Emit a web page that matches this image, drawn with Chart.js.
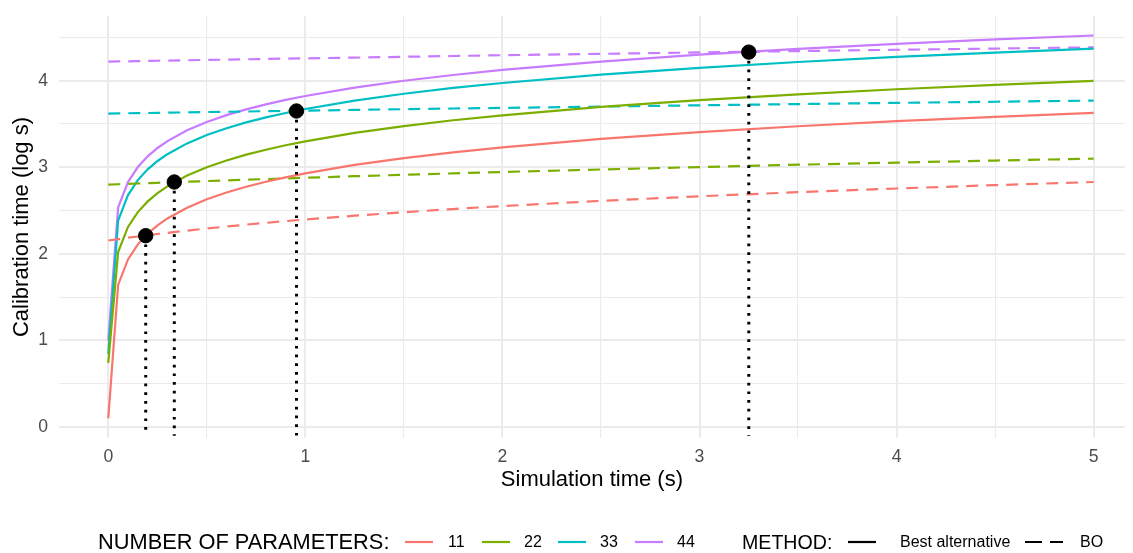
<!DOCTYPE html>
<html>
<head>
<meta charset="utf-8">
<script src="https://cdn.jsdelivr.net/npm/chart.js@4.4.1/dist/chart.umd.min.js"></script>
<style>
  html, body { margin: 0; padding: 0; background: #fff; }
  #wrap { position: relative; width: 1133px; height: 553px; font-family: "Liberation Sans", Arial, sans-serif; }
  #plot { position: absolute; left: 0; top: 0; }
  .lg { position: absolute; top: 530px; height: 24px; line-height: 24px; white-space: nowrap; color: #000; }
  .lg svg { display: block; }
</style>
</head>
<body>
<div id="wrap">
  <canvas id="plot" width="1133" height="553"></canvas>
  <div id="legend"></div>
</div>
<script>
// simulation time (s)
const simTime = [0, 0.05, 0.1, 0.15, 0.2, 0.25, 0.3, 0.4, 0.5, 0.6, 0.7, 0.8, 0.9, 1, 1.25, 1.5, 1.75, 2, 2.5, 3, 3.5, 4, 4.5, 5];

// calibration time (log s), best alternative method
const best11 = [0.10, 1.641, 1.936, 2.110, 2.234, 2.330, 2.409, 2.533, 2.630, 2.709, 2.775, 2.833, 2.884, 2.930, 3.027, 3.106, 3.173, 3.231, 3.328, 3.407, 3.474, 3.532, 3.583, 3.628];
const best22 = [0.740, 2.021, 2.311, 2.483, 2.606, 2.702, 2.780, 2.904, 3.000, 3.079, 3.146, 3.203, 3.254, 3.300, 3.397, 3.476, 3.543, 3.600, 3.697, 3.776, 3.843, 3.901, 3.952, 3.998];
const best33 = [0.845, 2.384, 2.679, 2.852, 2.976, 3.073, 3.151, 3.276, 3.372, 3.451, 3.518, 3.576, 3.627, 3.673, 3.770, 3.849, 3.916, 3.973, 4.070, 4.149, 4.216, 4.274, 4.325, 4.371];
const best44 = [1.000, 2.535, 2.829, 3.003, 3.127, 3.223, 3.302, 3.427, 3.523, 3.602, 3.669, 3.727, 3.778, 3.823, 3.920, 3.999, 4.066, 4.124, 4.221, 4.300, 4.367, 4.425, 4.476, 4.522];

// calibration time (log s), BO
const bo11 = [2.155, 2.171, 2.187, 2.201, 2.216, 2.230, 2.243, 2.269, 2.293, 2.316, 2.338, 2.358, 2.378, 2.397, 2.441, 2.481, 2.518, 2.552, 2.612, 2.665, 2.713, 2.755, 2.794, 2.830];
const bo22 = [2.800, 2.804, 2.809, 2.813, 2.817, 2.821, 2.825, 2.833, 2.841, 2.849, 2.857, 2.864, 2.872, 2.879, 2.897, 2.913, 2.930, 2.946, 2.975, 3.003, 3.030, 3.054, 3.078, 3.100];
const bo33 = [3.620, 3.622, 3.624, 3.625, 3.627, 3.629, 3.631, 3.634, 3.638, 3.641, 3.644, 3.648, 3.651, 3.654, 3.663, 3.671, 3.679, 3.686, 3.701, 3.716, 3.730, 3.744, 3.757, 3.770];
const bo44 = [4.220, 4.222, 4.224, 4.226, 4.228, 4.230, 4.232, 4.236, 4.240, 4.243, 4.247, 4.251, 4.255, 4.258, 4.267, 4.276, 4.285, 4.294, 4.310, 4.326, 4.342, 4.357, 4.371, 4.385];

// break-even points where BO gets faster
const crossX = [0.19, 0.335, 0.955, 3.25];
const crossY = [2.21, 2.83, 3.65, 4.33];

const paramCounts = ['11', '22', '33', '44'];
const methods = ['Best alternative', 'BO'];
const xTicks = [0, 0.5, 1, 1.5, 2, 2.5, 3, 3.5, 4, 4.5, 5];
const yTicks = [0, 0.5, 1, 1.5, 2, 2.5, 3, 3.5, 4, 4.5];

const colors = ['#F8766D', '#7CAE00', '#00BFC4', '#C77CFF'];
const bestSeries = [best11, best22, best33, best44];
const boSeries = [bo11, bo22, bo33, bo44];
const X_MIN = -0.25, X_MAX = 5.158;
const Y_MIN = -0.126, Y_MAX = 4.747;

const toXY = ys => simTime.map((t, i) => ({ x: t, y: ys[i] }));

const datasets = [];
paramCounts.forEach((p, i) => {
    datasets.push({
        label: p + ' ' + methods[0],
        data: toXY(bestSeries[i]),
        showLine: true, borderColor: colors[i], borderWidth: 2.2,
        pointRadius: 0, order: 3
    });
    datasets.push({
        label: p + ' ' + methods[1],
        data: toXY(boSeries[i]),
        showLine: true, borderColor: colors[i], borderWidth: 2.2,
        borderDash: [12, 8], pointRadius: 0, order: 3
    });
});

// dotted drop lines from each crossing to the bottom of the panel
crossX.forEach((cx, i) => {
    datasets.push({
        data: [{ x: cx, y: crossY[i] }, { x: cx, y: -0.1 }],
        showLine: true, borderColor: '#000', borderWidth: 3,
        borderDash: [2.7, 6], borderCapStyle: 'butt', pointRadius: 0, order: 2
    });
});

datasets.push({
    data: crossX.map((cx, i) => ({ x: cx, y: crossY[i] })),
    showLine: false, pointRadius: 7.2, pointBackgroundColor: '#000',
    pointBorderColor: '#000', pointBorderWidth: 1, order: 1
});

const isMajor = v => Number.isInteger(v);
const gridWidth = ctx => (ctx.tick && isMajor(ctx.tick.value)) ? 2 : 1.1;

new Chart(document.getElementById('plot'), {
    type: 'scatter',
    data: { datasets },
    options: {
        responsive: false,
        animation: false,
        events: [],
        layout: { padding: { top: 16, right: 0, left: 0, bottom: 0 } },
        plugins: { legend: { display: false }, tooltip: { enabled: false } },
        scales: {
            x: {
                type: 'linear', min: X_MIN, max: X_MAX,
                afterBuildTicks: s => { s.ticks = xTicks.map(v => ({ value: v })); },
                afterFit: s => { s.height = 115; s.paddingLeft = 0; s.paddingRight = 0; },
                grid: { drawTicks: false, color: '#EBEBEB', lineWidth: gridWidth },
                border: { display: false },
                ticks: {
                    padding: 9, color: '#4D4D4D', maxRotation: 0, autoSkip: false,
                    font: { family: 'Liberation Sans', size: 17.6 },
                    callback: v => isMajor(v) ? String(v) : ''
                },
                title: {
                    display: true, text: 'Simulation time (s)', color: '#000',
                    font: { family: 'Liberation Sans', size: 22 },
                    padding: { top: 0, bottom: 60 }
                }
            },
            y: {
                type: 'linear', min: Y_MIN, max: Y_MAX,
                afterBuildTicks: s => { s.ticks = yTicks.map(v => ({ value: v })); },
                afterFit: s => { s.width = 59; s.paddingTop = 0; s.paddingBottom = 0; },
                grid: { drawTicks: false, color: '#EBEBEB', lineWidth: gridWidth },
                border: { display: false },
                ticks: {
                    padding: 11, color: '#4D4D4D', autoSkip: false,
                    font: { family: 'Liberation Sans', size: 17.6 },
                    callback: v => isMajor(v) ? String(v) : ''
                },
                title: {
                    display: true, text: 'Calibration time (log s)', color: '#000',
                    font: { family: 'Liberation Sans', size: 22 },
                    padding: { top: 9, bottom: 0 }
                }
            }
        }
    }
});

// legend row under the plot
const legend = document.getElementById('legend');
function addText(txt, left, size) {
    const d = document.createElement('div');
    d.className = 'lg';
    d.style.left = left + 'px';
    d.style.fontSize = size + 'px';
    d.textContent = txt;
    legend.appendChild(d);
}
function addKey(color, left, width, dash) {
    const d = document.createElement('div');
    d.className = 'lg';
    d.style.left = left + 'px';
    d.innerHTML = '<svg width="' + width + '" height="24"><line x1="0" y1="12" x2="' + width +
        '" y2="12" stroke="' + color + '" stroke-width="2.2"' +
        (dash ? ' stroke-dasharray="' + dash + '"' : '') + '/></svg>';
    legend.appendChild(d);
}
addText('NUMBER OF PARAMETERS:', 98, 21.8);
const keyLeft = [405, 482, 558, 635];
const labelLeft = [448, 524, 600, 677];
paramCounts.forEach((p, i) => {
    addKey(colors[i], keyLeft[i], 28, null);
    addText(p, labelLeft[i], 16);
});
addText('METHOD:', 742, 19.6);
addKey('#000', 848, 28, null);
addText(methods[0], 900, 16);
addKey('#000', 1025, 38, '17 8');
addText(methods[1], 1080, 16);
</script>
</body>
</html>
